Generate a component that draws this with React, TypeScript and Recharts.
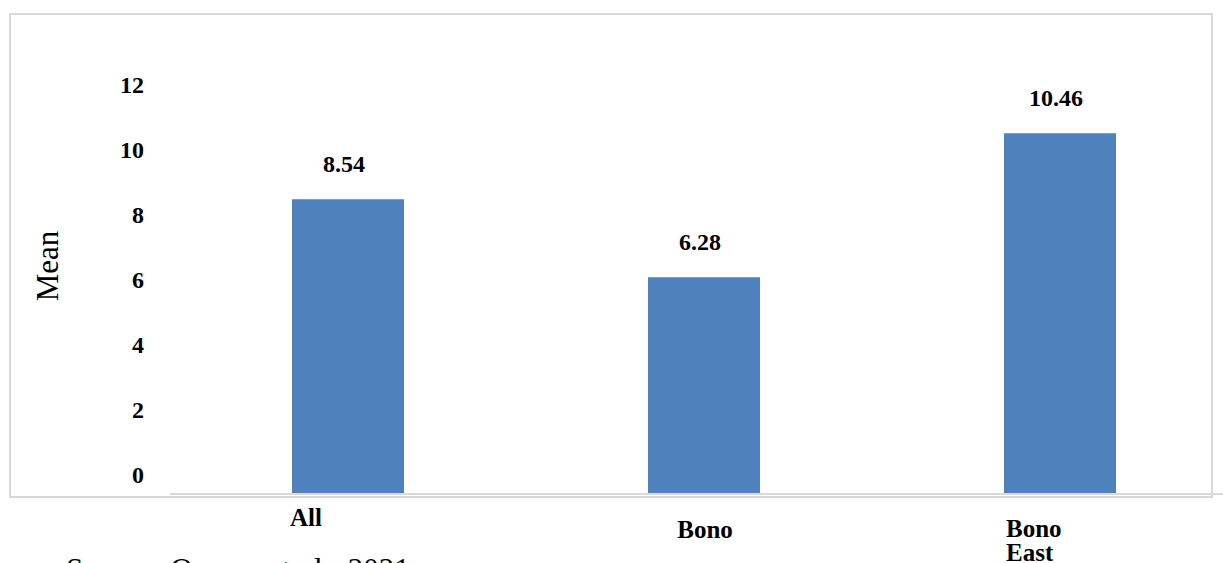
import { Bar, BarChart, LabelList, XAxis, YAxis } from 'recharts';

// Mean score per region
const CATEGORIES = ['All', 'Bono', 'Bono East'];
const MEANS = [8.54, 6.28, 10.46];
const Y_TICKS = [0, 2, 4, 6, 8, 10, 12];

const data = CATEGORIES.map((name, i) => ({ name, mean: MEANS[i] }));

const SERIF = '"Liberation Serif", "Times New Roman", serif';
const BAR_COL = '#4F81BD';
const FRAME_COL = '#d9d9d9';

// category labels in the source sit a bit off-centre, one line per word
const X_LABEL_LAYOUT = [
  { dx: -58, dy: 32, anchor: 'start' },
  { dx: 1, dy: 44, anchor: 'middle' },
  { dx: -54, dy: 43, anchor: 'start' },
];

function XTick(props: any) {
  const { x, y, payload } = props;
  const idx = payload.index ?? props.index ?? 0;
  const pos = X_LABEL_LAYOUT[idx] ?? { dx: 0, dy: 30, anchor: 'middle' };
  const lines = String(payload.value).split(' ');
  return (
    <text
      x={x + pos.dx}
      y={y + pos.dy}
      textAnchor={pos.anchor}
      fontFamily={SERIF}
      fontWeight="bold"
      fontSize={25}
      fill="#000"
    >
      {lines.map((l, i) => (
        <tspan key={l} x={x + pos.dx} dy={i === 0 ? 0 : 24}>
          {l}
        </tspan>
      ))}
    </text>
  );
}

function ValueLabel(p: any) {
  const { x, y, width, value } = p;
  return (
    <text
      x={x + width / 2 - 4}
      y={y - 27}
      textAnchor="middle"
      fontFamily={SERIF}
      fontWeight="bold"
      fontSize={24}
      fill="#000"
    >
      {Number(value).toFixed(2)}
    </text>
  );
}

export default function App() {
  return (
    <div
      style={{
        position: 'fixed',
        left: 0,
        top: 0,
        width: 1223,
        height: 563,
        overflow: 'hidden',
        background: '#fff',
      }}
    >
      {/* chart frame */}
      <div
        style={{
          position: 'absolute',
          left: 9,
          top: 13,
          width: 1200,
          height: 481,
          border: `2px solid ${FRAME_COL}`,
        }}
      />
      <div style={{ position: 'absolute', left: 0, top: 0 }}>
        <BarChart
          width={1240}
          height={563}
          data={data}
          margin={{ top: 80, right: 2, left: 110, bottom: 29 }}
        >
          <XAxis
            dataKey="name"
            height={40}
            interval={0}
            tickLine={false}
            tickSize={0}
            tickMargin={0}
            axisLine={{ stroke: FRAME_COL, strokeWidth: 2 }}
            tick={<XTick />}
          />
          {/* visible tick labels (the source's labels are drawn slightly compressed) */}
          <YAxis
            yAxisId="ticks"
            width={60}
            domain={[-0.6, 12.14]}
            ticks={Y_TICKS}
            allowDataOverflow
            axisLine={false}
            tickLine={false}
            tickSize={0}
            tickMargin={26}
            tick={{ fontFamily: SERIF, fontWeight: 'bold', fontSize: 24, fill: '#000' }}
            label={{
              content: () => (
                <text
                  x={47}
                  y={266}
                  transform="rotate(-90 47 266)"
                  textAnchor="middle"
                  dominantBaseline="central"
                  fontFamily={SERIF}
                  fontSize={31}
                  fill="#000"
                >
                  Mean
                </text>
              ),
            }}
          />
          <YAxis yAxisId="val" hide domain={[0, 12]} />
          <Bar
            yAxisId="val"
            dataKey="mean"
            fill={BAR_COL}
            barSize={112}
            isAnimationActive={false}
          >
            <LabelList dataKey="mean" content={<ValueLabel />} />
          </Bar>
        </BarChart>
      </div>
      <div
        style={{
          position: 'absolute',
          left: 66,
          top: 555,
          fontFamily: SERIF,
          fontSize: 31,
          lineHeight: '30px',
          wordSpacing: 2,
          whiteSpace: 'nowrap',
          color: '#000',
        }}
      >
        Source: Owusu et al., 2021
      </div>
    </div>
  );
}
